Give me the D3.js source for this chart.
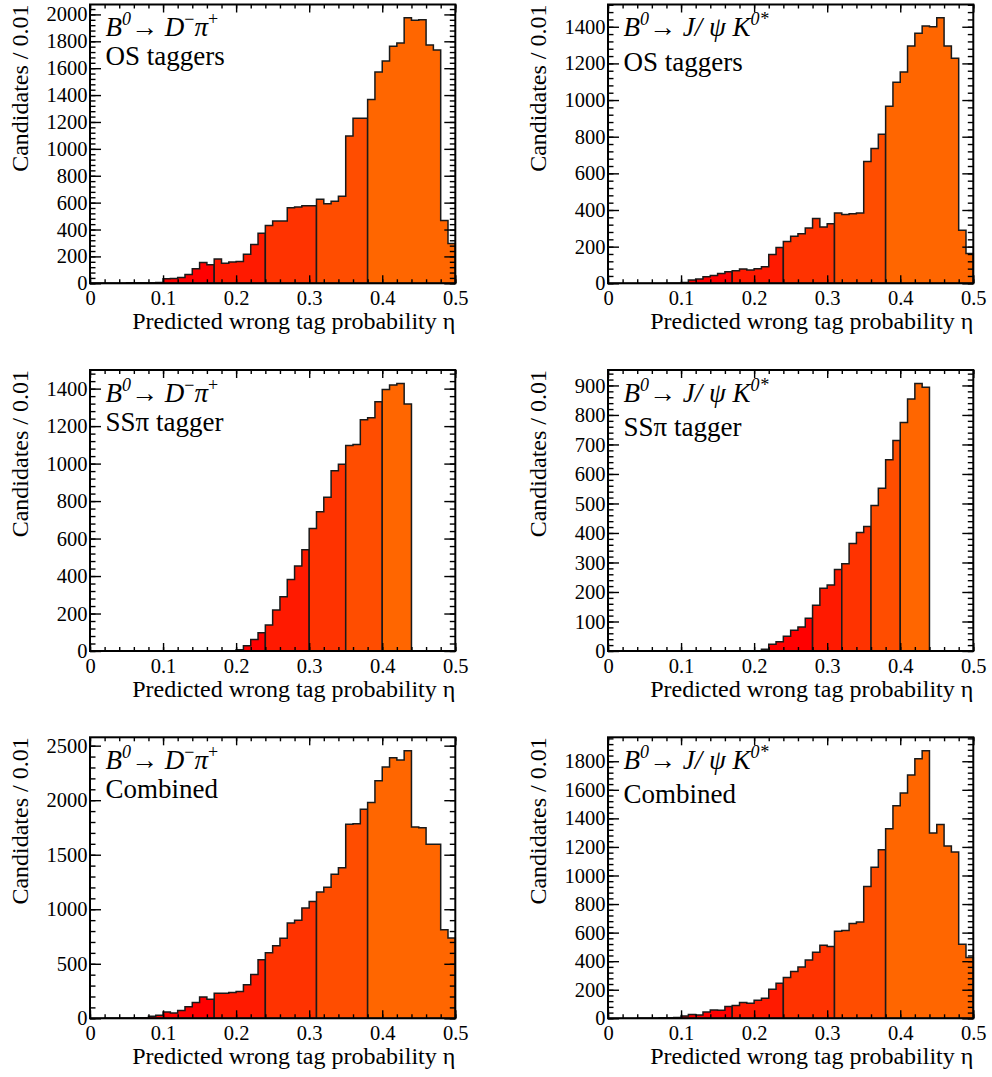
<!DOCTYPE html>
<html>
<head>
<meta charset="utf-8">
<script src="https://cdn.jsdelivr.net/npm/d3@7"></script>
<style>
  html, body { margin: 0; padding: 0; background: #fff; }
  svg { display: block; }
  svg text { font-family: "Liberation Serif", "Tinos", "Times New Roman", "Nimbus Roman", "Nimbus Roman No9 L", "FreeSerif", "Noto Serif", "DejaVu Serif", "Times", serif; }
</style>
</head>
<body>
<svg id="chart" width="992" height="1077"></svg>
<script>
// Candidates per 0.01 bin of the predicted mistag eta, bins 0.00-0.01 ... 0.49-0.50
const dpiOS = [2,2,3,3,3,4,4,5,5,6,
  34,35,44,66,108,155,138,180,150,158,
  163,217,288,372,429,463,463,562,567,576,
  576,626,591,611,648,1096,1227,1227,1367,1571,
  1653,1764,1788,1975,1956,1961,1773,1736,468,296];

const jpsiOS = [0,0,0,0,0,0,0,0,1,2,
  5,18,23,36,43,54,63,69,78,72,
  80,90,157,195,228,257,271,302,354,307,
  325,383,376,379,383,665,735,813,966,1097,
  1153,1295,1364,1404,1400,1449,1295,1228,289,163];

const dpiSS = [0,0,0,0,0,0,0,0,0,0,
  0,0,0,0,0,0,0,0,0,0,
  7,28,62,98,139,219,290,381,454,540,
  654,743,821,962,996,1097,1102,1234,1244,1330,
  1395,1420,1428,1318,0,0,0,0,0,0];

const jpsiSS = [0,0,0,0,0,0,0,0,0,0,
  0,0,0,0,0,0,0,0,0,0,
  0,6,23,31,50,70,81,111,155,213,
  224,276,296,364,402,422,493,552,648,713,
  774,854,907,894,0,0,0,0,0,0];

const dpiComb = [1,1,2,2,3,3,4,5,18,28,
  58,49,71,107,144,196,175,230,230,236,
  245,307,402,537,601,666,733,874,899,1012,
  1071,1157,1202,1322,1380,1779,1785,1917,1979,2178,
  2304,2390,2368,2454,1755,1748,1595,1595,813,736];

const jpsiComb = [1,1,1,1,2,2,2,3,4,6,
  16,26,23,44,58,56,82,89,110,105,
  126,140,203,245,285,327,360,409,463,512,
  502,610,614,664,675,923,1058,1180,1327,1488,
  1577,1703,1818,1874,1297,1357,1206,1164,519,425];

// Axis labelling
const xTickValues = [0, 0.1, 0.2, 0.3, 0.4, 0.5];
const xTickLabels = ["0", "0.1", "0.2", "0.3", "0.4", "0.5"];
const xMinorValues = [0,0.02,0.04,0.06,0.08,0.1,0.12,0.14,0.16,0.18,0.2,0.22,0.24,0.26,0.28,0.3,0.32,0.34,0.36,0.38,0.4,0.42,0.44,0.46,0.48,0.5];
const xTitle = "Predicted wrong tag probability \u03b7";
const yTitle = "Candidates / 0.01";

// Eta ranges shaded in successive colours
const bandColors = ["#ff0000", "#ff1a00", "#ff3300", "#ff4d00", "#ff6600"];
const bandEdgesStd = [0, 0.17, 0.24, 0.31, 0.38, 0.5];
const bandEdgesDpiSS = [0, 0.24, 0.30, 0.35, 0.40, 0.5];
const bandEdgesJpsiSS = [0, 0.28, 0.32, 0.36, 0.40, 0.5];

const taggerNames = ["OS taggers", "SS\u03c0 tagger", "Combined"];
const yMajorSteps = [200, 200, 200, 100, 500, 200];

const panels = [
  { data: dpiOS,    bands: bandEdgesStd,    mode: "dpi",  tag: taggerNames[0], yStep: yMajorSteps[0], col: 0, row: 0 },
  { data: jpsiOS,   bands: bandEdgesStd,    mode: "jpsi", tag: taggerNames[0], yStep: yMajorSteps[1], col: 1, row: 0 },
  { data: dpiSS,    bands: bandEdgesDpiSS,  mode: "dpi",  tag: taggerNames[1], yStep: yMajorSteps[2], col: 0, row: 1 },
  { data: jpsiSS,   bands: bandEdgesJpsiSS, mode: "jpsi", tag: taggerNames[1], yStep: yMajorSteps[3], col: 1, row: 1 },
  { data: dpiComb,  bands: bandEdgesStd,    mode: "dpi",  tag: taggerNames[2], yStep: yMajorSteps[4], col: 0, row: 2 },
  { data: jpsiComb, bands: bandEdgesStd,    mode: "jpsi", tag: taggerNames[2], yStep: yMajorSteps[5], col: 1, row: 2 }
];

const colLeft = [90, 608];
const plotW = 365.3;
const rowTop = [4.5, 370, 737.3];
const rowBottom = [283.3, 651, 1018.3];

const svg = d3.select("#chart");

function drawPanel(p) {
  const left = colLeft[p.col], top = rowTop[p.row], bottom = rowBottom[p.row];
  const h = bottom - top;
  const g = svg.append("g").attr("transform", `translate(${left},${top})`);

  const x = d3.scaleLinear().domain([0, 0.5]).range([0, plotW]);
  const yMax = d3.max(p.data) * 1.05;
  const y = d3.scaleLinear().domain([0, yMax]).range([h, 0]);

  const line = d3.line().x(d => x(d[0])).y(d => y(d[1]));

  // filled step outline for each eta range
  for (let b = 0; b < p.bands.length - 1; b++) {
    const i0 = Math.round(p.bands[b] * 100), i1 = Math.round(p.bands[b + 1] * 100);
    const pts = [[i0 / 100, 0]];
    for (let i = i0; i < i1; i++) {
      pts.push([i / 100, p.data[i]]);
      pts.push([(i + 1) / 100, p.data[i]]);
    }
    pts.push([i1 / 100, 0]);
    g.append("path")
      .attr("d", line(pts) + "Z")
      .attr("fill", bandColors[b])
      .attr("stroke", "#1a1a1a")
      .attr("stroke-width", 1.5)
      .attr("stroke-linejoin", "miter");
  }

  // axes with ticks pointing into the frame
  const yMajor = d3.range(0, yMax, p.yStep);
  const yMinor = d3.range(0, yMax, p.yStep / 5);

  const addAxis = (axis, tr) => {
    const a = g.append("g").attr("transform", tr).call(axis);
    a.attr("font-family", null);
    a.select(".domain").remove();
    a.selectAll("line").attr("stroke", "#000").attr("stroke-width", 1.4);
    a.selectAll("text").attr("font-size", 20.5).attr("fill", "#000");
    return a;
  };

  addAxis(d3.axisBottom(x).tickValues(xMinorValues).tickSize(-4).tickFormat(""), `translate(0,${h})`);
  addAxis(d3.axisBottom(x).tickValues(xTickValues).tickSize(-8).tickPadding(7.5)
    .tickFormat((d, i) => xTickLabels[i]), `translate(0,${h})`);
  addAxis(d3.axisTop(x).tickValues(xMinorValues).tickSize(-4).tickFormat(""), "translate(0,0)");
  addAxis(d3.axisTop(x).tickValues(xTickValues).tickSize(-8).tickFormat(""), "translate(0,0)");

  addAxis(d3.axisLeft(y).tickValues(yMinor).tickSize(-5.5).tickFormat(""), "translate(0,0)");
  addAxis(d3.axisLeft(y).tickValues(yMajor).tickSize(-11).tickPadding(2.5).tickFormat(d3.format("d")), "translate(0,0)");
  addAxis(d3.axisRight(y).tickValues(yMinor).tickSize(-5.5).tickFormat(""), `translate(${plotW},0)`);
  addAxis(d3.axisRight(y).tickValues(yMajor).tickSize(-11).tickFormat(""), `translate(${plotW},0)`);

  // frame
  g.append("rect").attr("x", 0).attr("y", 0).attr("width", plotW).attr("height", h)
    .attr("fill", "none").attr("stroke", "#000").attr("stroke-width", 2);

  // axis titles
  g.append("text").attr("x", plotW).attr("y", h + 46)
    .attr("text-anchor", "end").attr("font-size", 24).text(xTitle);
  g.append("text").attr("transform", `translate(-62,0) rotate(-90)`)
    .attr("text-anchor", "end").attr("font-size", 24).text(yTitle);

  // decay and tagger labels
  const lx = 15.5;
  const t1 = g.append("text").attr("x", lx).attr("y", 31.5).attr("font-size", 27);
  const sup = 18, up = 11;
  t1.append("tspan").attr("font-style", "italic").text("B");
  t1.append("tspan").attr("font-style", "italic").attr("font-size", sup).attr("dy", -up).text("0");
  t1.append("tspan").attr("dy", up).text("\u2192 ");
  if (p.mode === "dpi") {
    t1.append("tspan").attr("font-style", "italic").text("D");
    t1.append("tspan").attr("font-size", sup).attr("dy", -up).text("\u2212");
    t1.append("tspan").attr("font-style", "italic").attr("dy", up).text("\u03c0");
    t1.append("tspan").attr("font-size", sup).attr("dy", -up).text("+");
  } else {
    t1.append("tspan").attr("font-style", "italic").text("J/ \u03c8 K");
    t1.append("tspan").attr("font-style", "italic").attr("font-size", sup).attr("dy", -up).text("0*");
  }
  g.append("text").attr("x", lx).attr("y", p.mode === "dpi" ? 60.5 : 66)
    .attr("font-size", 27).text(p.tag);
}

panels.forEach(drawPanel);
</script>
</body>
</html>
